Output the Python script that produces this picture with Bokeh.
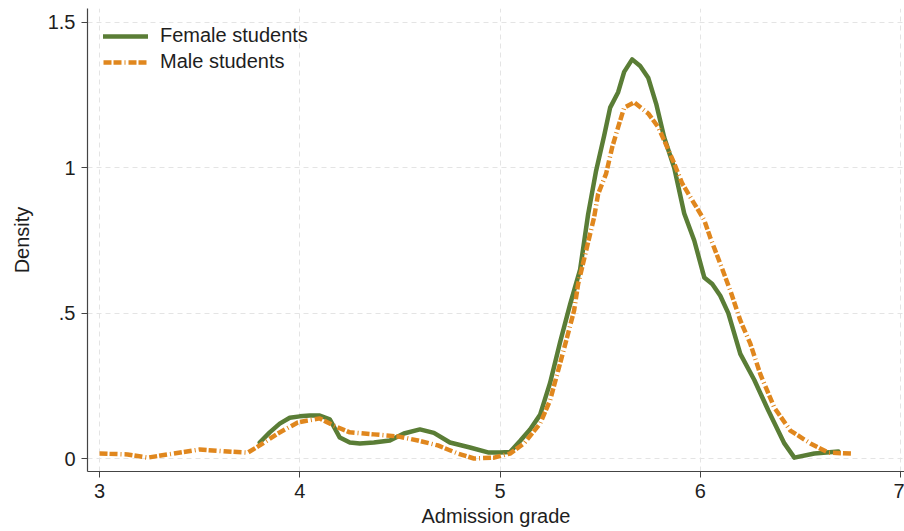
from bokeh.plotting import figure
from bokeh.models import Range1d, FixedTicker, Legend, LegendItem
from bokeh.embed import file_html
from bokeh.resources import INLINE

# Kernel density of admission grades, by sex
female_grade = [3.80, 3.85, 3.90, 3.95, 4.00, 4.05, 4.10, 4.15, 4.20, 4.25,
                4.30, 4.37, 4.45, 4.52, 4.60, 4.67, 4.75, 4.85, 4.94, 5.00,
                5.05, 5.10, 5.15, 5.20, 5.25, 5.30, 5.35, 5.40, 5.44, 5.48,
                5.52, 5.55, 5.59, 5.62, 5.66, 5.70, 5.74, 5.78, 5.82, 5.87,
                5.92, 5.97, 6.02, 6.06, 6.10, 6.14, 6.20, 6.27, 6.34, 6.42,
                6.47, 6.57, 6.69]
female_density = [0.055, 0.090, 0.120, 0.140, 0.145, 0.148, 0.148, 0.135, 0.072, 0.055,
                  0.052, 0.055, 0.062, 0.086, 0.100, 0.088, 0.055, 0.038, 0.021, 0.021,
                  0.022, 0.060, 0.100, 0.150, 0.260, 0.400, 0.530, 0.650, 0.840, 0.990,
                  1.110, 1.207, 1.260, 1.330, 1.373, 1.350, 1.310, 1.220, 1.104, 1.000,
                  0.843, 0.750, 0.623, 0.600, 0.560, 0.500, 0.360, 0.270, 0.165, 0.052,
                  0.003, 0.017, 0.024]

male_grade = [3.00, 3.14, 3.24, 3.37, 3.50, 3.64, 3.74, 3.80, 3.89, 3.99,
              4.04, 4.10, 4.17, 4.25, 4.37, 4.49, 4.59, 4.69, 4.79, 4.87,
              4.97, 5.05, 5.12, 5.20, 5.25, 5.30, 5.34, 5.37, 5.39, 5.43,
              5.47, 5.49, 5.53, 5.56, 5.59, 5.62, 5.67, 5.74, 5.79, 5.82,
              5.87, 5.91, 5.97, 6.02, 6.05, 6.10, 6.15, 6.20, 6.25, 6.30,
              6.37, 6.45, 6.55, 6.64, 6.76]
male_density = [0.017, 0.014, 0.003, 0.017, 0.031, 0.024, 0.020, 0.045, 0.086, 0.124,
                0.131, 0.138, 0.113, 0.090, 0.083, 0.076, 0.062, 0.045, 0.017, 0.000,
                0.003, 0.017, 0.052, 0.120, 0.200, 0.327, 0.430, 0.509, 0.600, 0.715,
                0.830, 0.910, 0.980, 1.070, 1.140, 1.207, 1.225, 1.187, 1.140, 1.094,
                1.015, 0.946, 0.877, 0.820, 0.760, 0.670, 0.578, 0.475, 0.395, 0.290,
                0.175, 0.096, 0.052, 0.020, 0.017]

x_ticks = [3, 4, 5, 6, 7]
y_ticks = [0, 0.5, 1, 1.5]
y_tick_labels = ["0", ".5", "1", "1.5"]
series_names = ["Female students", "Male students"]

FONT = "Liberation Sans"
FS = "20px"
TEXT = "#1e1e1e"
AXIS = "#444444"
GREEN = "#5a7d36"
ORANGE = "#e0871e"

p = figure(width=904, height=531, output_backend="svg", toolbar_location=None,
           x_range=Range1d(2.94, 7.02), y_range=Range1d(-0.0447, 1.548),
           min_border_left=87, min_border_right=0, min_border_top=8,
           min_border_bottom=60)
p.outline_line_color = None
p.background_fill_color = "white"
p.border_fill_color = "white"

r_f = p.line(female_grade, female_density, line_color=GREEN, line_width=4.5,
             line_join="round", line_cap="round")
r_m = p.line(male_grade, male_density, line_color=ORANGE, line_width=4.5,
             line_dash="8 2 8 3 1 3", line_join="round")

# axes
p.xaxis.ticker = FixedTicker(ticks=x_ticks)
p.yaxis.ticker = FixedTicker(ticks=y_ticks)
p.yaxis.major_label_overrides = dict(zip(y_ticks, y_tick_labels))
for ax in (p.xaxis[0], p.yaxis[0]):
    ax.axis_line_color = AXIS
    ax.axis_line_width = 1.2
    ax.major_tick_line_color = AXIS
    ax.major_tick_out = 6
    ax.major_tick_in = 0
    ax.minor_tick_line_color = None
    ax.major_label_text_font = FONT
    ax.major_label_text_font_size = FS
    ax.major_label_text_color = TEXT
    ax.axis_label_text_font = FONT
    ax.axis_label_text_font_size = FS
    ax.axis_label_text_font_style = "normal"
    ax.axis_label_text_color = TEXT
p.xaxis.axis_label = "Admission grade"
p.yaxis.axis_label = "Density"
p.xaxis.major_label_standoff = 6
p.xaxis.axis_label_standoff = 4
p.yaxis.major_label_standoff = 6
p.yaxis.axis_label_standoff = 12
p.yaxis.major_label_orientation = "horizontal"

# dashed light grid
p.xgrid.ticker = FixedTicker(ticks=x_ticks)
p.ygrid.ticker = FixedTicker(ticks=y_ticks)
for g in (p.xgrid[0], p.ygrid[0]):
    g.grid_line_color = "#e4e4e4"
    g.grid_line_dash = "5 4"
    g.grid_line_width = 1

legend = Legend(items=[LegendItem(label=series_names[0], renderers=[r_f]),
                       LegendItem(label=series_names[1], renderers=[r_m])],
                location="top_left", margin=6, padding=10, spacing=3,
                glyph_width=45, glyph_height=22, label_height=22,
                label_standoff=12, label_text_font=FONT,
                label_text_font_size=FS, label_text_color=TEXT,
                background_fill_alpha=0, border_line_alpha=0)
p.add_layout(legend)

open("out.html", "w").write(file_html(p, INLINE))
